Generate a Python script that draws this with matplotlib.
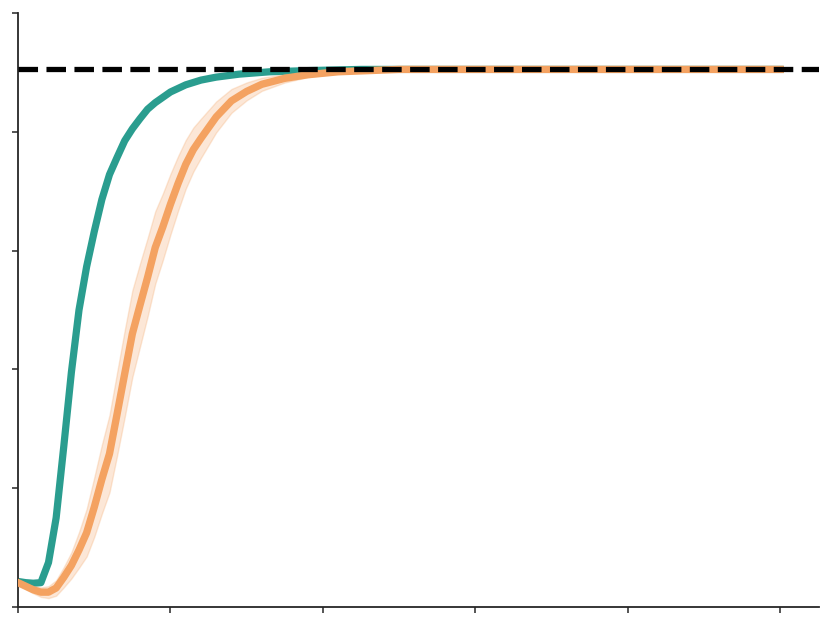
import numpy as np
import matplotlib
matplotlib.use("Agg")
import matplotlib.pyplot as plt

# Data
green_x = [0, 1, 2, 3, 4, 5, 6, 7, 8, 9, 10, 11, 12, 13, 14, 15, 16, 17, 18,
           20, 22, 24, 26, 29, 33, 38, 45, 50, 60, 70, 80, 90, 100]
green_y = [0.043, 0.041, 0.040, 0.041, 0.075, 0.150, 0.270, 0.395, 0.500,
           0.573, 0.632, 0.686, 0.728, 0.757, 0.785, 0.805, 0.822, 0.838,
           0.849, 0.867, 0.879, 0.887, 0.892, 0.897, 0.901, 0.903, 0.905,
           0.905, 0.905, 0.905, 0.905, 0.905, 0.905]
green_sd = [0.002, 0.002, 0.003, 0.005, 0.008, 0.010, 0.010, 0.008, 0.006,
            0.005, 0.004, 0.003, 0.003, 0.002, 0.002, 0.002, 0.002, 0.001,
            0.001, 0.001, 0.001, 0.001, 0.0, 0.0, 0.0, 0.0, 0.0, 0.0, 0.0,
            0.0, 0.0, 0.0, 0.0]

orange_x = [0, 1, 2, 3, 4, 5, 6, 7, 8, 9, 10, 11, 12, 13, 14, 15, 16, 17,
            18, 19, 20, 21, 22, 23, 24, 26, 28, 30, 32, 35, 38, 42, 46, 50,
            60, 70, 80, 90, 100]
orange_y = [0.041, 0.035, 0.029, 0.025, 0.025, 0.032, 0.050, 0.070, 0.096,
            0.125, 0.168, 0.215, 0.258, 0.325, 0.393, 0.460, 0.508, 0.555,
            0.605, 0.640, 0.678, 0.713, 0.745, 0.770, 0.789, 0.825, 0.852,
            0.868, 0.880, 0.890, 0.896, 0.901, 0.903, 0.905, 0.905, 0.905,
            0.905, 0.905, 0.905]
orange_sd = [0.004, 0.005, 0.006, 0.008, 0.010, 0.013, 0.017, 0.022, 0.030,
             0.040, 0.050, 0.058, 0.065, 0.070, 0.073, 0.073, 0.070, 0.066,
             0.061, 0.056, 0.051, 0.046, 0.041, 0.037, 0.033, 0.026, 0.020,
             0.015, 0.011, 0.007, 0.004, 0.002, 0.001, 0.0, 0.0, 0.0, 0.0,
             0.0, 0.0]

target = 0.905
x_ticks = [0, 20, 40, 60, 80, 100]
y_ticks = [0.0, 0.2, 0.4, 0.6, 0.8, 1.0]

green = "#2a9d8f"
orange = "#f4a261"

fig = plt.figure(figsize=(8.31, 6.27), dpi=100)
ax = fig.add_axes([0.0217, 0.0319, 0.9639, 0.9474])

gx = np.array(green_x)
gy = np.array(green_y)
gs = np.array(green_sd)
ox = np.array(orange_x)
oy = np.array(orange_y)
osd = np.array(orange_sd)

# mean curves with their spread
ax.fill_between(gx, gy - gs, gy + gs, color=green, alpha=0.3, lw=0)
ax.plot(gx, gy, color=green, lw=5.2, zorder=2)
ax.fill_between(ox, oy - osd, oy + osd, color=orange, alpha=0.25, lw=1,
                zorder=3)
ax.plot(ox, oy, color=orange, lw=5.3, zorder=4)
ax.axhline(target, color="black", lw=3.8, ls="--", zorder=5)

ax.set_xlim(0, 105.1)
ax.set_ylim(0, 1.0)
ax.set_xticks(x_ticks)
ax.set_yticks(y_ticks)
ax.set_xticklabels([])
ax.set_yticklabels([])
ax.tick_params(length=4, width=1.1, color="#262626")
for side in ["top", "right"]:
    ax.spines[side].set_visible(False)
for side in ["left", "bottom"]:
    ax.spines[side].set_linewidth(1.3)
    ax.spines[side].set_color("#262626")

fig.savefig("out.png", dpi=100)
